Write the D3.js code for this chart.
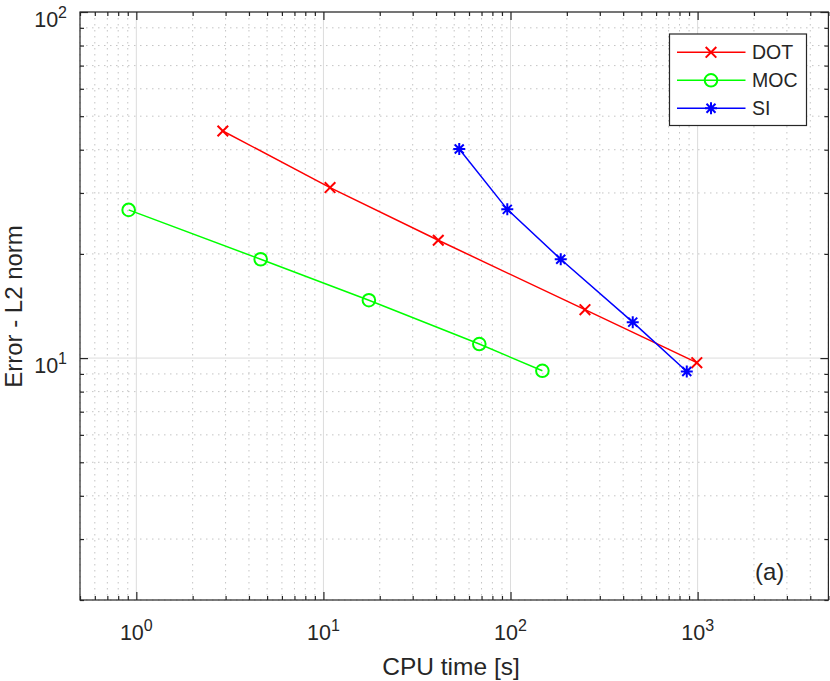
<!DOCTYPE html>
<html>
<head>
<meta charset="utf-8">
<script src="https://cdnjs.cloudflare.com/ajax/libs/d3/7.8.5/d3.min.js"></script>
<style>
  body { margin: 0; background: #fff; }
  text { font-family: "Liberation Sans", Arial, sans-serif; fill: #262626; }
</style>
</head>
<body>
<div id="chart-area"></div>
<script>
// values (CPU time [s] vs error)
const dotTime = [2.9, 10.85, 41.1, 250, 990];
const dotErr  = [45.3, 31.1, 21.9, 13.8, 9.7];
const mocTime = [0.91, 4.62, 17.5, 68.1, 148];
const mocErr  = [26.8, 19.3, 14.7, 10.98, 9.19];
const siTime  = [53.2, 96.1, 185.5, 450, 875];
const siErr   = [40.2, 26.9, 19.3, 12.7, 9.15];
const seriesNames = ["DOT", "MOC", "SI"];
const xDomain = [0.5, 5000];
const yDomain = [2, 100];
const xMajor = [1, 10, 100, 1000];
const yMajor = [10, 100];
const xLabelText = "CPU time [s]";
const yLabelText = "Error - L2 norm";
const panelTag = "(a)";

const W = 830, H = 681;
const plotL = 80, plotR = 828.4, plotT = 12, plotB = 600;

const svg = d3.select("#chart-area").append("svg")
  .attr("width", W)
  .attr("height", H);

const x = d3.scaleLog().domain(xDomain).range([plotL, plotR]);
const y = d3.scaleLog().domain(yDomain).range([plotB, plotT]);

const xMinor = x.ticks().filter(v => !xMajor.includes(v));
const yMinor = y.ticks().filter(v => !yMajor.includes(v));

// grid
const grid = svg.append("g");
grid.selectAll(".vminor").data(xMinor).enter().append("line")
  .attr("x1", d => x(d)).attr("x2", d => x(d))
  .attr("y1", plotT).attr("y2", plotB)
  .attr("stroke", "#c4c4c4").attr("stroke-width", 1)
  .attr("stroke-dasharray", "1.5,4.5");
grid.selectAll(".hminor").data(yMinor).enter().append("line")
  .attr("y1", d => y(d)).attr("y2", d => y(d))
  .attr("x1", plotL).attr("x2", plotR)
  .attr("stroke", "#c4c4c4").attr("stroke-width", 1)
  .attr("stroke-dasharray", "1.5,4.5");
grid.selectAll(".vmajor").data(xMajor).enter().append("line")
  .attr("x1", d => x(d)).attr("x2", d => x(d))
  .attr("y1", plotT).attr("y2", plotB)
  .attr("stroke", "#dcdcdc").attr("stroke-width", 1);
grid.selectAll(".hmajor").data(yMajor).enter().append("line")
  .attr("y1", d => y(d)).attr("y2", d => y(d))
  .attr("x1", plotL).attr("x2", plotR)
  .attr("stroke", "#dcdcdc").attr("stroke-width", 1);

// axes with inward ticks, on all four sides
function styleAxis(g) {
  g.select(".domain").remove();
  g.selectAll(".tick line").attr("stroke", "#262626").attr("stroke-width", 1.2);
}
svg.append("g").attr("transform", "translate(0," + plotB + ")")
  .call(d3.axisBottom(x).tickValues(xMinor).tickSize(-4).tickFormat("")).call(styleAxis);
svg.append("g").attr("transform", "translate(0," + plotB + ")")
  .call(d3.axisBottom(x).tickValues(xMajor).tickSize(-8).tickFormat("")).call(styleAxis);
svg.append("g").attr("transform", "translate(0," + plotT + ")")
  .call(d3.axisTop(x).tickValues(xMinor).tickSize(-4).tickFormat("")).call(styleAxis);
svg.append("g").attr("transform", "translate(0," + plotT + ")")
  .call(d3.axisTop(x).tickValues(xMajor).tickSize(-8).tickFormat("")).call(styleAxis);
svg.append("g").attr("transform", "translate(" + plotL + ",0)")
  .call(d3.axisLeft(y).tickValues(yMinor).tickSize(-4).tickFormat("")).call(styleAxis);
svg.append("g").attr("transform", "translate(" + plotL + ",0)")
  .call(d3.axisLeft(y).tickValues(yMajor).tickSize(-8).tickFormat("")).call(styleAxis);
svg.append("g").attr("transform", "translate(" + plotR + ",0)")
  .call(d3.axisRight(y).tickValues(yMinor).tickSize(-4).tickFormat("")).call(styleAxis);
svg.append("g").attr("transform", "translate(" + plotR + ",0)")
  .call(d3.axisRight(y).tickValues(yMajor).tickSize(-8).tickFormat("")).call(styleAxis);

svg.append("rect")
  .attr("x", plotL).attr("y", plotT)
  .attr("width", plotR - plotL).attr("height", plotB - plotT)
  .attr("fill", "none").attr("stroke", "#262626").attr("stroke-width", 1.2);

// tick labels as 10^n
function powerLabel(sel, v) {
  sel.append("tspan").text("10");
  sel.append("tspan").attr("dy", -9).attr("font-size", "16px")
    .text(Math.round(Math.log10(v)));
}
xMajor.forEach(v => {
  svg.append("text")
    .attr("x", x(v)).attr("y", 640)
    .attr("text-anchor", "middle")
    .attr("font-size", "21.5px")
    .call(powerLabel, v);
});
yMajor.forEach(v => {
  svg.append("text")
    .attr("x", 67).attr("y", y(v) + 14.5)
    .attr("text-anchor", "end")
    .attr("font-size", "21.5px")
    .call(powerLabel, v);
});

// axis labels
svg.append("text")
  .attr("x", 451).attr("y", 674.5)
  .attr("text-anchor", "middle")
  .attr("font-size", "24.5px")
  .text(xLabelText);
svg.append("text")
  .attr("transform", "translate(22,306.5) rotate(-90)")
  .attr("text-anchor", "middle")
  .attr("font-size", "24px")
  .text(yLabelText);

svg.append("text")
  .attr("x", 755).attr("y", 580)
  .attr("font-size", "24px")
  .text(panelTag);

// series
const color = d3.scaleOrdinal().domain(seriesNames).range(["#ff0000", "#00ff00", "#0000ff"]);
const series = [
  { name: "DOT", time: dotTime, err: dotErr },
  { name: "MOC", time: mocTime, err: mocErr },
  { name: "SI",  time: siTime,  err: siErr }
];

function markerPath(name) {
  if (name === "DOT") {
    const s = 5.3;
    return "M" + (-s) + "," + (-s) + "L" + s + "," + s + "M" + (-s) + "," + s + "L" + s + "," + (-s);
  }
  if (name === "SI") {
    const s = 6, d = 4.5;
    return "M0," + (-s) + "V" + s + "M" + (-s) + ",0H" + s +
      "M" + (-d) + "," + (-d) + "L" + d + "," + d + "M" + (-d) + "," + d + "L" + d + "," + (-d);
  }
  return d3.symbol().type(d3.symbolCircle).size(Math.PI * 6.3 * 6.3)();
}

const line = d3.line().x(d => x(d[0])).y(d => y(d[1]));

series.forEach(s => {
  const pts = s.time.map((t, i) => [t, s.err[i]]);
  svg.append("path")
    .attr("d", line(pts))
    .attr("fill", "none")
    .attr("stroke", color(s.name))
    .attr("stroke-width", 1.5);
  svg.selectAll(null).data(pts).enter().append("path")
    .attr("transform", d => "translate(" + x(d[0]) + "," + y(d[1]) + ")")
    .attr("d", markerPath(s.name))
    .attr("fill", "none")
    .attr("stroke", color(s.name))
    .attr("stroke-width", 2);
});

// legend
const legend = svg.append("g");
legend.append("rect")
  .attr("x", 669.5).attr("y", 34)
  .attr("width", 137).attr("height", 91.5)
  .attr("fill", "#fff").attr("stroke", "#262626").attr("stroke-width", 1.2);
seriesNames.forEach((name, i) => {
  const ry = 52.3 + i * 28;
  legend.append("line")
    .attr("x1", 677).attr("x2", 745.5)
    .attr("y1", ry).attr("y2", ry)
    .attr("stroke", color(name)).attr("stroke-width", 1.5);
  legend.append("path")
    .attr("transform", "translate(711," + ry + ")")
    .attr("d", markerPath(name))
    .attr("fill", "none")
    .attr("stroke", color(name))
    .attr("stroke-width", 2);
  legend.append("text")
    .attr("x", 752).attr("y", ry + 7)
    .attr("font-size", "19.5px")
    .attr("fill", "#000")
    .text(name);
});
</script>
</body>
</html>
